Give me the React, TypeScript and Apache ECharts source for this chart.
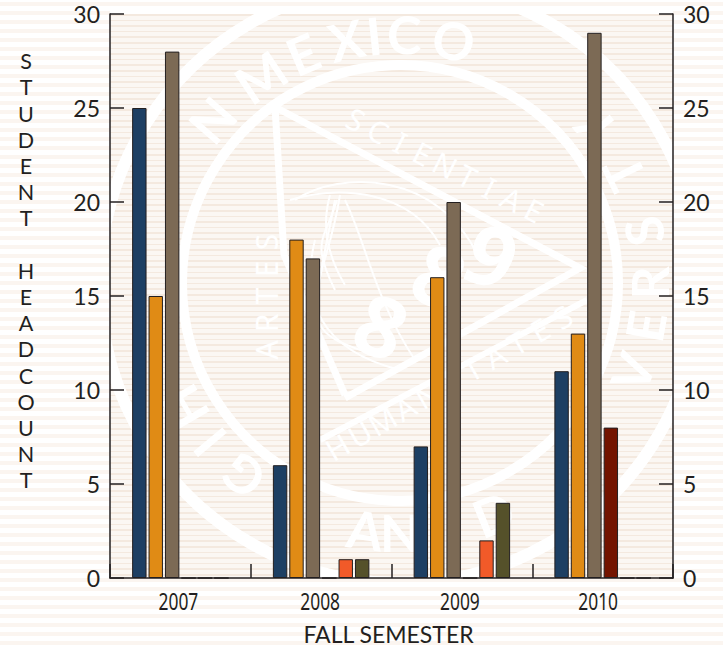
import React, { useEffect, useRef } from "react";
import * as echarts from "echarts";

const categories = ["2007", "2008", "2009", "2010"];
const blueValues = [25, 6, 7, 11];
const orangeValues = [15, 18, 16, 13];
const brownValues = [28, 17, 20, 29];
const darkRedValues = [0, 0, 0, 8];
const redOrangeValues = [0, 1, 2, 0];
const oliveValues = [0, 1, 4, 0];
const yTicks = { min: 0, max: 30, interval: 5 };
const yTitle = "S\nT\nU\nD\nE\nN\nT\n \nH\nE\nA\nD\nC\nO\nU\nN\nT";
const xTitle = "FALL SEMESTER";

const INK = "#231f20";
const SANS = '"Noto Sans", "Open Sans", sans-serif';
const LATO = "Lato, sans-serif";

const plot = { left: 110, top: 14, right: 673, bottom: 578, width: 723, height: 650 };
const seal = { cx: 400, cy: 283, innerR: 218, outerR: 300 };
const xLabelOffsets = [-2, -1, -2, -4.5];

// [letter, angle clockwise from the top in degrees, tops facing inward?]
const ringLetters: [string, number, boolean][] = [
  ["N", -49, false], ["M", -34, false], ["E", -23, false], ["X", -12.5, false],
  ["I", -6, false], ["C", 1, false], ["O", 12.5, false],
  ["Y", 52, true], ["T", 64, true], ["S", 78, true],
  ["R", 90, true], ["E", 100, true], ["V", 111, true],
  ["H", -120, false], ["I", -130, false], ["G", -141, false],
  ["A", 188, true], ["N", 180, true], ["D", 158, true],
];

function sealElements(): any[] {
  const { cx, cy, innerR, outerR } = seal;
  const white = "#ffffff";
  const els: any[] = [];
  const stroke = (w: number) => ({ stroke: white, lineWidth: w, fill: "none" });
  els.push({ type: "circle", shape: { cx, cy, r: outerR }, style: stroke(12), z: 0 });
  els.push({ type: "circle", shape: { cx, cy, r: innerR }, style: stroke(10), z: 0 });
  ringLetters.forEach(([ch, deg, inward]) => {
    const t = (deg * Math.PI) / 180;
    els.push({
      type: "text",
      x: cx + 249 * Math.sin(t),
      y: cy - 249 * Math.cos(t),
      rotation: inward ? -t - Math.PI : -t,
      style: { text: ch, fill: white, fontFamily: LATO, fontWeight: 700, fontSize: 52, align: "center", verticalAlign: "middle" },
      z: 0,
    });
  });
  // triangle
  els.push({ type: "polyline", shape: { points: [[275, 107], [580, 268], [345, 398]] }, style: { ...stroke(7), lineJoin: "miter" }, z: 0 });
  els.push({ type: "polyline", shape: { points: [[275, 107], [284, 255], [345, 395]] }, style: stroke(7), z: 0 });
  els.push({ type: "line", shape: { x1: 320, y1: 440, x2: 587, y2: 300 }, style: stroke(6), z: 0 });
  const fine = (text: string, x: number, y: number, deg: number, spacing: number) => {
    const r = (deg * Math.PI) / 180;
    const n = text.length;
    [...text].forEach((ch, i) => {
      const d = (i - (n - 1) / 2) * spacing;
      els.push({
        type: "text",
        x: x + d * Math.cos(r),
        y: y + d * Math.sin(r),
        rotation: -r,
        style: { text: ch, fill: white, fontFamily: SANS, fontSize: 30, align: "center", verticalAlign: "middle" },
        z: 0,
      });
    });
  };
  fine("SCIENTIAE", 445, 165, 27, 25);
  fine("ARTES", 266, 296, -90, 27);
  fine("HUMANITATES", 450, 382, -30, 26);
  // digits
  [["8", 382, 325], ["8", 440, 275], ["9", 492, 255]].forEach(([ch, x, y]: any) => {
    els.push({
      type: "text", x, y, rotation: -0.4,
      style: { text: ch, fill: white, fontFamily: SANS, fontWeight: 700, fontSize: 84, align: "center", verticalAlign: "middle" },
      z: 0,
    });
  });
  // plume
  const curves = [
    [295, 200, 480, 260, 340, 170, 440, 170],
    [290, 200, 440, 245, 340, 185, 410, 190],
    [330, 195, 345, 285, 320, 230, 330, 260],
    [337, 200, 335, 290, 325, 240, 310, 240],
    [340, 195, 315, 340, 330, 260, 310, 280],
    [335, 200, 375, 355, 310, 330, 300, 330],
    [345, 200, 415, 360, 365, 240, 375, 300],
    [315, 240, 400, 370, 300, 300, 320, 350],
  ];
  curves.forEach(([x1, y1, x2, y2, cpx1, cpy1, cpx2, cpy2]) => {
    els.push({ type: "bezierCurve", shape: { x1, y1, x2, y2, cpx1, cpy1, cpx2, cpy2 }, style: stroke(2), z: 0 });
  });
  return els;
}

function frameElements(): any[] {
  const { left, top, right, bottom, width, height } = plot;
  const els: any[] = [];
  const rect = (x: number, y: number, w: number, h: number, fill: string) =>
    els.push({ type: "rect", shape: { x, y, width: w, height: h }, style: { fill }, z: 1, silent: true });
  rect(0, 0, left, height, "#ffffff");
  rect(right, 0, width - right, height, "#ffffff");
  rect(left, 0, right - left, top, "#ffffff");
  rect(left, bottom, right - left, height - bottom, "#ffffff");
  for (let y = 2; y < height; y += 9) {
    if (y + 4 <= top || y >= bottom) rect(0, y, width, 4, "#fbf5f0");
    else {
      rect(0, y, left, 4, "#fbf5f0");
      rect(right, y, width - right, 4, "#fbf5f0");
    }
  }
  return els;
}

const barStyle = (color: string, name: string, data: number[]) => ({
  type: "bar" as const,
  name,
  data,
  z: 4,
  barWidth: 14.4,
  barGap: "14%",
  itemStyle: { color, borderColor: INK, borderWidth: 1 },
});

export default function App() {
  const ref = useRef<HTMLDivElement>(null);
  useEffect(() => {
    const chart = echarts.init(ref.current!, null, { renderer: "svg" });
    const yAxisBase = {
      type: "value" as const,
      ...yTicks,
      z: 5,
      splitLine: { show: false },
      axisLine: { show: true, lineStyle: { color: INK, width: 1.5 } },
      axisTick: { show: true, inside: true, length: 14, lineStyle: { color: INK, width: 1.5 } },
      axisLabel: { color: INK, fontFamily: LATO, fontSize: 23, margin: 10 },
    };
    const base = [...sealElements(), ...frameElements()];
    chart.setOption({
      animation: false,
      backgroundColor: "transparent",
      title: {
        text: yTitle,
        left: 26,
        top: 48,
        padding: 0,
        textAlign: "center",
        textStyle: { color: INK, fontFamily: LATO, fontSize: 21.5, fontWeight: 400, lineHeight: 26.2 },
      },
      grid: { left: 110, right: 50, top: 14, bottom: 72, containLabel: false, outerBoundsMode: "none" },
      graphic: { elements: base },
      xAxis: {
        type: "category",
        data: categories,
        z: 5,
        name: xTitle,
        nameLocation: "middle",
        nameGap: 44,
        nameTextStyle: { color: INK, fontFamily: LATO, fontSize: 23, padding: [0, 6, 0, 0] },
        axisLine: { show: true, lineStyle: { color: INK, width: 1.5 } },
        axisTick: { show: true, inside: true, length: 14, lineStyle: { color: INK, width: 1.5 } },
        axisLabel: { show: false },
      },
      yAxis: [
        { ...yAxisBase, position: "left" },
        { ...yAxisBase, position: "right" },
      ],
      series: [
        barStyle("#1d3f63", "Series A", blueValues),
        barStyle("#e08b15", "Series B", orangeValues),
        barStyle("#7c6a55", "Series C", brownValues),
        barStyle("#731400", "Series D", darkRedValues),
        barStyle("#f15a29", "Series E", redOrangeValues),
        barStyle("#55512a", "Series F", oliveValues),
      ],
    });
    // The year labels are set in a condensed face in the reference: squeeze them horizontally.
    const labels = categories.map((c, i) => ({
      type: "text",
      x: (chart.convertToPixel({ xAxisIndex: 0 }, c) as number) + xLabelOffsets[i],
      y: 601,
      scaleX: 0.74,
      z: 6,
      style: { text: c, fill: INK, fontFamily: SANS, fontSize: 23.5, align: "center", verticalAlign: "middle" },
    }));
    chart.setOption({ graphic: { elements: [...base, ...labels] } });
    return () => chart.dispose();
  }, []);
  return (
    <div style={{ position: "absolute", left: 0, top: 0, width: 723, height: 650, overflow: "hidden", background: "#fff" }}>
      <div
        style={{
          position: "absolute",
          left: plot.left,
          top: plot.top,
          width: plot.right - plot.left,
          height: plot.bottom - plot.top,
          background: "repeating-linear-gradient(to bottom, #f4e9df 0px, #f4e9df 1.6px, #fbf7f3 1.6px, #fbf7f3 5.6px)",
        }}
      />
      <div ref={ref} style={{ position: "absolute", left: 0, top: 0, width: 723, height: 650 }} />
    </div>
  );
}
